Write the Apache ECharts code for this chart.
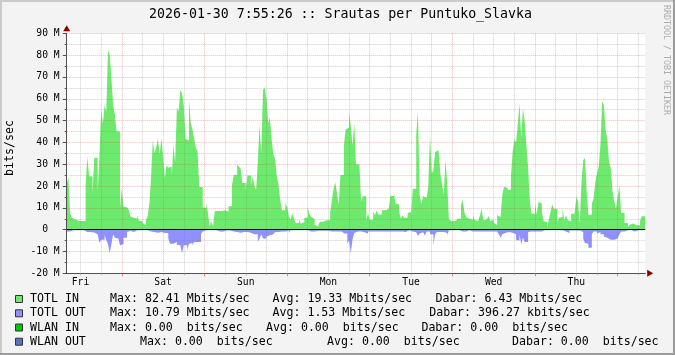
<!DOCTYPE html>
<html><head><meta charset="utf-8">
<script src="https://cdn.jsdelivr.net/npm/echarts@6/dist/echarts.min.js"></script>
<style>html,body{margin:0;padding:0;background:#f3f3f3}#c{width:675px;height:355px}</style>
</head><body><div id="c"></div>
<script>
// ---- data (Mbit/s, 30-minute samples starting Fri 08:00) ----
const dayNames = ['Fri', 'Sat', 'Sun', 'Mon', 'Tue', 'Wed', 'Thu'];
const startHour = 8;
const stepMinutes = 30;
const totlIn = [
  21, 24, 7.6, 5.5, 4.8, 4.3, 4, 3.2, 4, 4,
  4, 20.8, 33.6, 24.5, 24.5, 16, 33, 33, 17.6, 33,
  55, 48.5, 57, 54, 82.4, 80, 69, 57, 52.5, 45,
  45, 10, 19, 10.5, 10.3, 10, 9.3, 6, 5.5, 4.6,
  5, 6.6, 4, 4, 3, 2.3, 4.3, 6.1, 12, 24,
  41, 35, 38, 41.6, 34.6, 42, 33.6, 23.7, 29.5, 28.4,
  29, 24.5, 38.7, 31, 56, 54, 64, 62.4, 57, 41.6,
  41, 59.8, 49.4, 45.9, 42, 37.5, 36, 19.5, 19.5, 10,
  10, 12.2, 8.1, 1.5, 3.8, 1.5, 8.5, 8.5, 8.3, 8.5,
  8.3, 8.9, 8.6, 8.3, 10.7, 10.7, 20.3, 25, 25.2, 30,
  29, 28, 21.4, 21.4, 18, 24.8, 24.8, 20.3, 24, 20.3,
  18.3, 31, 47.9, 34.9, 64, 65, 60, 49, 51.4, 41.7,
  34.4, 32.6, 24.6, 21, 13.5, 8.9, 8.9, 12.2, 10.4, 6.3,
  4.6, 7.6, 5, 3, 3, 4.6, 2.8, 3.4, 5.5, 5.5,
  10.4, 7.3, 5.8, 5, 2.3, 1.5, 1.5, 3.6, 3.6, 4.3,
  4.3, 4.3, 4.3, 8, 13.5, 18.8, 21.9, 16.5, 11.5, 25,
  25, 38.7, 45.9, 46.8, 54, 47.9, 38.7, 49, 30, 30,
  29.8, 13, 15.3, 15.3, 4.3, 7.6, 4.6, 4.6, 8.4, 6.6,
  8.9, 7, 7, 8.9, 8.9, 8.9, 9.5, 10.4, 15.4, 15.4,
  17, 12, 11.5, 9, 5, 6.6, 5.5, 5.5, 7.6, 8.1,
  5.8, 18.8, 18.8, 43.6, 54, 16, 11.6, 15.4, 14.5, 14.5,
  19.9, 43.6, 25.7, 27.2, 35.6, 36.4, 36, 25.7, 21.1, 16.2,
  32, 21.4, 4.6, 4, 4, 4, 4.6, 5, 5, 11.2,
  13.8, 8.1, 5.8, 5, 5, 4.6, 6.4, 4.3, 4.1, 4.1,
  6.6, 9.6, 4.3, 4.7, 4.3, 6.3, 4, 4.6, 3.2, 2.3,
  6.6, 5.8, 5.4, 16, 19.6, 19.3, 18.3, 18.3, 24.2, 35.6,
  41.3, 40, 48.2, 57.8, 42, 55.5, 49.8, 38.7, 28.4, 13.1,
  7.3, 7.3, 12, 6.9, 12.7, 12, 8.1, 3.8, 3.5, 1.2,
  4.6, 8.1, 11.6, 9.6, 9.6, 3.5, 5.5, 5.8, 10.1, 4.3,
  6.6, 4.3, 4, 7.3, 7.3, 7.3, 15.3, 12.7, 2.8, 21.9,
  31.8, 33, 17.7, 6.6, 7, 12, 14.2, 21.9, 25.7, 29,
  38.7, 59, 57, 45.6, 41.3, 31, 28.3, 18, 13.1, 9.6,
  15, 20.2, 7.8, 7.8, 3, 3, 1.2, 2.3, 2.8, 2,
  2, 2, 2, 4, 6.1, 6.1
];
const totlOut = [
  -0.8, -0.8, -0.8, -0.3, -0.3, -0.3, -0.3, -0.3, -0.3, -0.3,
  -0.5, -1.1, -1.1, -1.1, -1.1, -1.3, -1.5, -2.1, -3, -6.1,
  -4.6, -4.6, -2.4, -4.9, -6.7, -10.7, -6.4, -2.1, -3.7, -4.1,
  -4.1, -7.3, -6.4, -3.7, -3.7, -1.1, -0.5, -1.1, -1.1, -0.3,
  -0.3, -0.3, -0.3, -0.3, -0.3, -0.3, -0.3, -0.8, -0.8, -0.8,
  -1.1, -1.1, -1.4, -1.4, -1.1, -1.1, -1.5, -1.5, -1.5, -4.1,
  -6.4, -6.4, -5.7, -5.7, -6.9, -7.2, -6.4, -10.7, -7.2, -7.2,
  -9.5, -6.4, -6.1, -7.2, -5.7, -5.7, -5.7, -5.7, -2.1, -0.8,
  -0.3, -0.3, -0.3, -0.3, -0.3, -0.3, -0.3, -0.8, -0.8, -0.8,
  -0.8, -0.8, -0.4, -0.4, -0.4, -0.8, -0.8, -1.1, -1.1, -1.4,
  -1.4, -1.4, -1.1, -1.1, -1.1, -1.4, -1.4, -1.4, -2.1, -2.1,
  -2.1, -5.7, -4.1, -2.1, -4.1, -4.1, -3.1, -2.6, -2.6, -2.1,
  -2.1, -1.1, -1.1, -1.1, -0.8, -0.8, -0.8, -0.8, -0.5, -1.5,
  -0.3, -0.3, -0.3, -0.3, -0.3, -0.3, -0.3, -0.3, -0.3, -0.3,
  -0.8, -0.8, -0.8, -0.8, -0.5, -0.5, -0.5, -0.5, -0.5, -0.5,
  -0.5, -0.5, -0.8, -0.8, -0.8, -0.8, -0.8, -0.8, -0.8, -0.8,
  -1.2, -1.8, -1.8, -6.4, -4.9, -10.79, -4.6, -1.5, -0.8, -0.8,
  -0.8, -0.8, -1.2, -1.2, -1.8, -0.8, -0.8, -0.8, -0.8, -0.8,
  -0.8, -0.8, -0.8, -0.8, -0.8, -0.8, -0.8, -0.8, -0.8, -0.8,
  -0.8, -0.8, -0.8, -0.8, -0.8, -1.1, -1.1, -0.3, -0.3, -0.8,
  -0.8, -0.8, -1.2, -1.8, -2.9, -1.8, -1.2, -1.2, -2.7, -0.8,
  -0.8, -2.1, -2.1, -7.2, -2.1, -1.1, -1.1, -1.1, -1.1, -1.1,
  -1.5, -2.6, -0.3, -0.3, -0.3, -0.3, -0.3, -0.3, -0.8, -0.8,
  -0.8, -0.8, -0.3, -0.3, -0.3, -0.8, -0.8, -0.8, -0.8, -0.8,
  -0.8, -0.8, -0.8, -0.8, -0.8, -0.8, -0.8, -0.8, -0.8, -0.8,
  -1.2, -2.1, -3.7, -2.1, -1.4, -1.4, -1.1, -1.1, -1.4, -1.8,
  -2.1, -4.9, -4.9, -2.1, -6.7, -3.7, -5.7, -5.7, -1.1, -0.8,
  -0.8, -0.8, -0.8, -0.8, -0.8, -0.8, -0.8, -0.3, -0.3, -0.3,
  -0.3, -0.3, -0.3, -0.3, -0.3, -0.3, -0.3, -0.3, -0.3, -0.8,
  -0.8, -1.5, -0.4, -0.4, -0.4, -0.4, -0.4, -0.4, -0.5, -1.1,
  -4.1, -6.1, -6.4, -8.3, -8.3, -2.1, -0.8, -0.8, -1.8, -1.1,
  -2.1, -2.1, -3.1, -3.7, -4.6, -4.6, -5.2, -4.6, -4.1, -4.1,
  -4.6, -2.1, -0.8, -0.8, -0.3, -0.3, -0.3, -0.3, -0.3, -0.8,
  -0.3, -0.3, -0.3, -0.3, -0.3, -0.8
];
const yTicks = { min: -20, max: 90, step: 10 };
const titleText = '2026-01-30 7:55:26 :: Srautas per Puntuko_Slavka';
const legendRows = [
  { name: 'TOTL IN',  color: '#6dea6d', max: 'Max: 82.41 Mbits/sec', avg: 'Avg: 19.33 Mbits/sec', cur: 'Dabar: 6.43 Mbits/sec' },
  { name: 'TOTL OUT', color: '#9090ff', max: 'Max: 10.79 Mbits/sec', avg: 'Avg: 1.53 Mbits/sec',  cur: 'Dabar: 396.27 kbits/sec' },
  { name: 'WLAN IN',  color: '#00c800', max: 'Max: 0.00  bits/sec',  avg: 'Avg: 0.00  bits/sec',  cur: 'Dabar: 0.00  bits/sec' },
  { name: 'WLAN OUT', color: '#5a70c4', max: 'Max: 0.00  bits/sec',  avg: 'Avg: 0.00  bits/sec',  cur: 'Dabar: 0.00  bits/sec' }
];

// ---- categories: one boundary per sample, plus the closing boundary ----
const nCat = totlIn.length + 1;
const cats = [];
const hourOf = [];
for (let i = 0; i < nCat; i++) {
  const m = startHour * 60 + i * stepMinutes;
  const d = Math.floor(m / 1440);
  const h = (m % 1440) / 60;
  hourOf.push(h);
  const hh = String(Math.floor(h)).padStart(2, '0');
  const mm = String(m % 60).padStart(2, '0');
  cats.push(dayNames[d % 7] + ' ' + hh + ':' + mm);
}
const isMidnight = (i) => hourOf[i] === 0;
const isSixHour = (i) => hourOf[i] % 6 === 0 && hourOf[i] !== 0;
const isNoon = (i) => hourOf[i] === 12;

const FONT = '"DejaVu Sans Mono", monospace';
const RED_GRID = 'rgba(255,60,60,0.38)';
const GRAY_GRID = 'rgba(130,130,130,0.38)';
const AXIS = '#505050';
const ARROW = '#8a0000';

const chart = echarts.init(document.getElementById('c'), null, { renderer: 'canvas' });

const graphic = [
  { type: 'rect', shape: { x: 0, y: 0, width: 675, height: 2 }, style: { fill: '#cbcbcb' }, silent: true },
  { type: 'rect', shape: { x: 0, y: 0, width: 2, height: 355 }, style: { fill: '#cbcbcb' }, silent: true },
  { type: 'rect', shape: { x: 673, y: 0, width: 2, height: 355 }, style: { fill: '#9c9c9c' }, silent: true },
  { type: 'rect', shape: { x: 0, y: 353, width: 675, height: 2 }, style: { fill: '#9c9c9c' }, silent: true },
  { type: 'text', x: 340.5, y: 14.5, silent: true,
    style: { text: titleText, fill: '#000', font: '13.25px ' + FONT, align: 'center', verticalAlign: 'middle' } },
  { type: 'text', x: 10, y: 148, rotation: Math.PI / 2, silent: true,
    style: { text: 'bits/sec', fill: '#000', font: '11.6px ' + FONT, align: 'center', verticalAlign: 'middle' } },
  { type: 'text', x: 666.5, y: 60, rotation: -Math.PI / 2, silent: true,
    style: { text: 'RRDTOOL / TOBI OETIKER', fill: '#acacac', font: '8.3px ' + FONT, align: 'center', verticalAlign: 'middle' } }
];
const rowY = [299, 313.3, 327.5, 341.7];
const colX = [
  [110, 272.5, 435.6],
  [110, 272.5, 429.2],
  [110, 266, 421.4],
  [140, 327, 512]
];
legendRows.forEach((r, k) => {
  const y = rowY[k];
  graphic.push({ type: 'rect', shape: { x: 15.5, y: y - 3.5, width: 7, height: 7 },
    style: { fill: r.color, stroke: '#333', lineWidth: 1 }, silent: true });
  graphic.push({ type: 'text', x: 30, y: y, silent: true,
    style: { text: r.name, fill: '#000', font: '11.6px ' + FONT, align: 'left', verticalAlign: 'middle' } });
  [r.max, r.avg, r.cur].forEach((t, j) => {
    graphic.push({ type: 'text', x: colX[k][j], y: y, silent: true,
      style: { text: t, fill: '#000', font: '11.6px ' + FONT, align: 'left', verticalAlign: 'middle' } });
  });
});

const withEnd = (a) => a.concat([a[a.length - 1]]);

chart.setOption({
  animation: false,
  backgroundColor: '#f3f3f3',
  grid: { left: 66.7, top: 33.3, width: 578.5, height: 240, show: true, backgroundColor: '#ffffff',
          borderWidth: 0, containLabel: false, outerBoundsMode: 'none' },
  xAxis: [
    { type: 'category', data: cats, boundaryGap: false, position: 'bottom', z: 3,
      axisLine: { show: true, onZero: false, lineStyle: { color: AXIS, width: 1 } },
      axisTick: { show: true, interval: isMidnight, length: 3, lineStyle: { color: 'rgba(230,80,80,0.7)' } },
      axisLabel: { show: true, interval: isNoon, formatter: (v) => v.split(' ')[0], fontFamily: FONT,
                   fontSize: 9.7, color: '#000', margin: 4 },
      splitLine: { show: true, interval: isMidnight, lineStyle: { color: RED_GRID, type: [1, 1], width: 1 } } },
    { type: 'category', data: cats, boundaryGap: false, position: 'bottom', z: 3,
      axisLine: { show: true, onZero: false, symbol: ['none', 'triangle'], symbolSize: [7, 6], symbolOffset: [0, 5],
                  lineStyle: { color: ARROW, type: [0, 10000], width: 1 } },
      axisTick: { show: true, interval: isSixHour, length: 2, lineStyle: { color: 'rgba(150,150,150,0.6)' } },
      axisLabel: { show: false },
      splitLine: { show: true, interval: isSixHour, lineStyle: { color: GRAY_GRID, type: [1, 1], width: 1 } } }
  ],
  yAxis: [
    { type: 'value', min: yTicks.min, max: yTicks.max, interval: yTicks.step, position: 'left', z: 3,
      axisLine: { show: true, onZero: false, lineStyle: { color: AXIS, width: 1 } },
      axisTick: { show: true, length: 4, lineStyle: { color: AXIS } },
      minorTick: { show: true, splitNumber: 2, length: 2, lineStyle: { color: AXIS } },
      axisLabel: { formatter: (v) => (v === 0 ? '0  ' : v + ' M'), fontFamily: FONT, fontSize: 9.7,
                   color: '#000', margin: 7 },
      splitLine: { show: true, lineStyle: { color: RED_GRID, type: [1, 1], width: 1 } },
      minorSplitLine: { show: true, lineStyle: { color: GRAY_GRID, type: [1, 1], width: 1 } } },
    { type: 'value', min: yTicks.min, max: yTicks.max, interval: yTicks.step, position: 'left', offset: 0, z: 3,
      axisLine: { show: true, onZero: false, symbol: ['none', 'triangle'], symbolSize: [7, 6], symbolOffset: [0, 5],
                  lineStyle: { color: ARROW, type: [0, 10000], width: 1 } },
      axisTick: { show: false }, axisLabel: { show: false }, splitLine: { show: false } }
  ],
  series: [
    { name: 'TOTL IN', type: 'line', step: 'end', data: withEnd(totlIn), symbol: 'none', z: 1,
      lineStyle: { width: 0, opacity: 0 }, areaStyle: { color: legendRows[0].color, opacity: 1, origin: 'auto' } },
    { name: 'TOTL OUT', type: 'line', step: 'end', data: withEnd(totlOut), symbol: 'none', z: 1,
      lineStyle: { width: 0, opacity: 0 }, areaStyle: { color: legendRows[1].color, opacity: 1, origin: 'auto' } },
    { name: 'zero', type: 'line', data: [], z: 4, silent: true,
      markLine: { silent: true, symbol: ['none', 'none'], label: { show: false }, animation: false,
                  lineStyle: { color: '#000', width: 1, type: 'solid' }, data: [{ yAxis: 0 }] } }
  ],
  graphic: graphic
});
</script></body></html>
